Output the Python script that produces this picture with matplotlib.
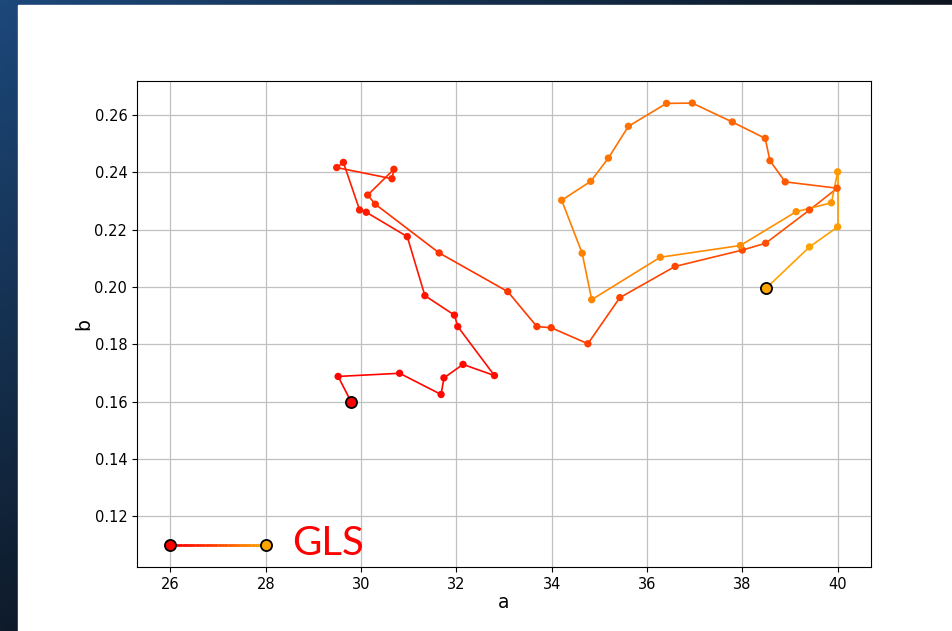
import numpy as np
import matplotlib
matplotlib.use("Agg")
import matplotlib.pyplot as plt
from matplotlib.colors import LinearSegmentedColormap
from matplotlib.collections import LineCollection
from matplotlib.patches import Rectangle

# trajectory (a, b), in time order
a = [29.79, 29.52, 30.81, 31.68, 31.74, 32.14, 32.80, 32.03, 31.96, 31.34,
     30.97, 30.11, 29.97, 29.63, 29.49, 30.65, 30.69, 30.14, 30.30, 31.64,
     33.08, 33.69, 33.99, 34.76, 35.43, 36.59, 38.00, 38.49, 39.41, 39.99,
     38.90, 38.58, 38.48, 37.79, 36.95, 36.41, 35.61, 35.19, 34.82, 34.21,
     34.64, 34.84, 36.28, 37.96, 39.13, 39.87, 40.00, 40.00, 39.41, 38.50]
b = [0.1600, 0.1688, 0.1699, 0.1625, 0.1683, 0.1730, 0.1691, 0.1862, 0.1902, 0.1970,
     0.2176, 0.2261, 0.2269, 0.2435, 0.2417, 0.2378, 0.2411, 0.2321, 0.2289, 0.2119,
     0.1984, 0.1862, 0.1858, 0.1802, 0.1963, 0.2072, 0.2129, 0.2153, 0.2269, 0.2345,
     0.2367, 0.2441, 0.2519, 0.2576, 0.2642, 0.2641, 0.2561, 0.2450, 0.2369, 0.2303,
     0.2118, 0.1956, 0.2104, 0.2145, 0.2263, 0.2294, 0.2402, 0.2210, 0.2140, 0.1996]

# legend key
key_a = [26, 28]
key_b = [0.11, 0.11]
key_label = "GLS"

cmap = LinearSegmentedColormap.from_list("red_orange", ["red", "orange"], gamma=1.25)

W, H = 953, 631
fig = plt.figure(figsize=(W / 100, H / 100), dpi=100)

# dark gradient frame behind the white page
bg = fig.add_axes([0, 0, 1, 1], zorder=-10)
xx, yy = np.meshgrid(np.linspace(0, 1, 200), np.linspace(0, 1, 200))
t = np.clip(0.85 * xx + 0.75 * yy, 0, 1)
c0 = np.array([28, 72, 122]) / 255
c1 = np.array([10, 12, 16]) / 255
img = c0[None, None, :] * (1 - t[..., None]) + c1[None, None, :] * t[..., None]
bg.imshow(img, extent=[0, 1, 0, 1], origin="upper", aspect="auto")
bg.add_patch(Rectangle((18 / W, 0), 1, (H - 5) / H, color="white"))
bg.set_xlim(0, 1)
bg.set_ylim(0, 1)
bg.axis("off")

ax = fig.add_axes([137 / W, 64 / H, 734 / W, 486 / H])

n = len(a)
cols = [cmap(i / (n - 1)) for i in range(n)]

# segments coloured along time
for i in range(n - 1):
    ax.plot(a[i:i + 2], b[i:i + 2], color=cmap((i + 0.5) / (n - 1)), lw=1.2, zorder=2)
ax.scatter(a, b, c=cols, s=28, zorder=3, linewidths=0)
ax.plot(a[0], b[0], "o", ms=8, mfc=cols[0], mec="black", mew=1.3, zorder=4)
ax.plot(a[-1], b[-1], "o", ms=8, mfc=cols[-1], mec="black", mew=1.3, zorder=4)

# gradient key line
kx = np.linspace(key_a[0], key_a[1], 30)
ky = np.full_like(kx, key_b[0])
pts = np.column_stack([kx, ky]).reshape(-1, 1, 2)
segs = np.concatenate([pts[:-1], pts[1:]], axis=1)
lc = LineCollection(segs, colors=cmap(np.linspace(0, 1, len(segs))), lw=1.8,
                    capstyle="projecting", zorder=2)
ax.add_collection(lc)
ax.plot(key_a[0], key_b[0], "o", ms=8, mfc="red", mec="black", mew=1.3, zorder=4)
ax.plot(key_a[1], key_b[1], "o", ms=8, mfc="orange", mec="black", mew=1.3, zorder=4)
ax.text(28.55, 0.1106, key_label, color="red", fontsize=29, family="Lato",
        va="center", ha="left")

ax.autoscale_view()
ax.set_yticks([0.12, 0.14, 0.16, 0.18, 0.20, 0.22, 0.24, 0.26])
ax.grid(True, color="#c0c0c0", lw=0.9)
ax.set_axisbelow(True)
ax.tick_params(labelsize=10.5)
ax.set_xlabel("a", fontsize=13.5, labelpad=1)
ax.set_ylabel("b", fontsize=13.5, labelpad=1)

fig.savefig("out.png", dpi=100)
